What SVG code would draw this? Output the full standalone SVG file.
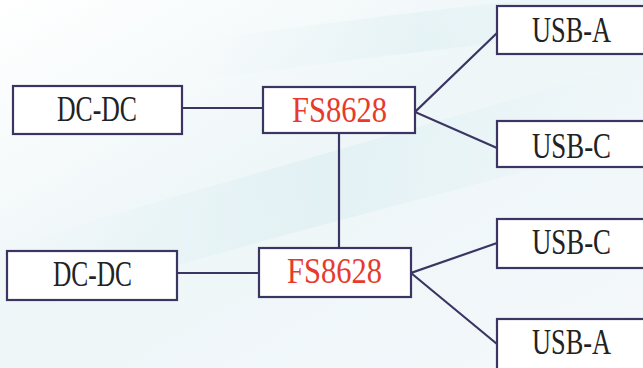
<svg xmlns="http://www.w3.org/2000/svg" width="643" height="368" viewBox="0 0 643 368">
  <defs>
    <linearGradient id="bg" x1="0" y1="0" x2="1" y2="1">
      <stop offset="0" stop-color="#ffffff"/>
      <stop offset="0.45" stop-color="#eef6f8"/>
      <stop offset="1" stop-color="#f4f8fb"/>
    </linearGradient>
    <linearGradient id="band" x1="0" y1="0" x2="1" y2="0">
      <stop offset="0" stop-color="#d9eef2" stop-opacity="0"/>
      <stop offset="0.5" stop-color="#d6ecf0" stop-opacity="0.8"/>
      <stop offset="1" stop-color="#d9eef2" stop-opacity="0"/>
    </linearGradient>
    <style>
      .box { fill: #ffffff; stroke: #3a3562; stroke-width: 2.2; }
      .lbl { font-family: "Liberation Serif", "DejaVu Serif", serif; font-size: 35px; fill: #222222; text-anchor: middle; }
      .chip { fill: #e8392c; }
      .conn { stroke: #3a3562; stroke-width: 2.2; fill: none; }
    </style>
  </defs>
  <rect x="0" y="0" width="643" height="368" fill="url(#bg)"/>
  <path d="M0 250 C 150 200, 350 150, 643 60 L 643 140 C 380 210, 180 260, 0 320 Z" fill="url(#band)" opacity="0.6"/>
  <path d="M200 40 C 350 20, 500 0, 643 -10 L 643 30 C 500 40, 350 60, 200 80 Z" fill="url(#band)" opacity="0.5"/>

  <g id="connectors">
    <line class="conn" x1="182" y1="108" x2="263" y2="108"/>
    <line class="conn" x1="177" y1="273" x2="259" y2="273"/>
    <line class="conn" x1="339" y1="133" x2="339" y2="248"/>
    <polyline class="conn" points="497,33 415,112 497,148"/>
    <polyline class="conn" points="497,243 411,273 497,344"/>
  </g>

  <g id="dcdc1">
    <rect class="box" x="13" y="86" width="169" height="48"/>
    <text class="lbl" x="97" y="121" textLength="80" lengthAdjust="spacingAndGlyphs">DC-DC</text>
  </g>
  <g id="fs1">
    <rect class="box" x="263" y="87" width="152" height="46"/>
    <text class="lbl chip" x="339.5" y="122" textLength="95" lengthAdjust="spacingAndGlyphs">FS8628</text>
  </g>
  <g id="dcdc2">
    <rect class="box" x="7" y="251" width="170" height="49"/>
    <text class="lbl" x="92.5" y="286" textLength="79" lengthAdjust="spacingAndGlyphs">DC-DC</text>
  </g>
  <g id="fs2">
    <rect class="box" x="259" y="248" width="152" height="49"/>
    <text class="lbl chip" x="334.5" y="283" textLength="95" lengthAdjust="spacingAndGlyphs">FS8628</text>
  </g>
  <g id="usba1">
    <rect class="box" x="497" y="6" width="160" height="48"/>
    <text class="lbl" x="571.5" y="42" textLength="79" lengthAdjust="spacingAndGlyphs">USB-A</text>
  </g>
  <g id="usbc1">
    <rect class="box" x="497" y="121" width="160" height="46"/>
    <text class="lbl" x="571.5" y="158" textLength="79" lengthAdjust="spacingAndGlyphs">USB-C</text>
  </g>
  <g id="usbc2">
    <rect class="box" x="497" y="219" width="160" height="49"/>
    <text class="lbl" x="571.5" y="254" textLength="79" lengthAdjust="spacingAndGlyphs">USB-C</text>
  </g>
  <g id="usba2">
    <rect class="box" x="497" y="319" width="160" height="60"/>
    <text class="lbl" x="571.5" y="354" textLength="79" lengthAdjust="spacingAndGlyphs">USB-A</text>
  </g>
</svg>
